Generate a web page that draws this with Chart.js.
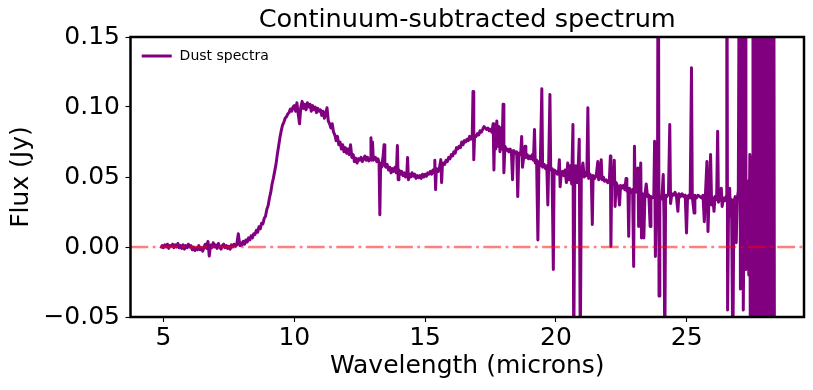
<!DOCTYPE html>
<html><head><meta charset="utf-8">
<script src="https://cdn.jsdelivr.net/npm/chart.js@4"></script>
<style>html,body{margin:0;padding:0;background:#fff;}canvas{display:block;}</style>
</head><body>
<canvas id="c" width="813" height="390"></canvas>
<script>
const chartTitle = "Continuum-subtracted spectrum";
const xAxisLabel = "Wavelength (microns)";
const yAxisLabel = "Flux (Jy)";
const seriesLabel = "Dust spectra";
const xTickValues = [5, 10, 15, 20, 25];
const xTickLabels = ["5", "10", "15", "20", "25"];
const yTickValues = [-0.05, 0.00, 0.05, 0.10, 0.15];
const yTickLabels = ["\u22120.05", "0.00", "0.05", "0.10", "0.15"];
const xLimits = [3.74, 29.48];
const yLimits = [-0.05, 0.15];
const zeroLevel = 0;

// [wavelength (microns), flux (Jy)]
const dustSeg1 = [[4.90,-0.001],[4.95,0.001],[5.00,-0.0005],[5.05,0.0015],[5.10,0.000],[5.15,0.002],[5.20,-0.001],[5.25,0.001],[5.30,0.0005],[5.35,0.002],[5.40,-0.0005],[5.45,0.0015],[5.50,0.000],[5.55,0.0025],[5.60,-0.0005],[5.65,0.001],[5.70,-0.001],[5.75,0.0015],[5.80,-0.0015],[5.85,0.001],[5.90,-0.0005],[5.95,0.002],[6.00,0.000],[6.05,0.001],[6.10,-0.002],[6.15,0.000],[6.20,-0.0025],[6.25,-0.0005],[6.30,-0.002],[6.35,0.001],[6.40,-0.002],[6.45,-0.0005],[6.50,-0.003],[6.55,0.000],[6.60,0.002],[6.65,-0.001],[6.70,0.004],[6.75,-0.0065],[6.80,0.0015],[6.85,-0.0005],[6.90,0.003],[6.95,0.000],[7.00,0.0015],[7.05,-0.001],[7.10,0.0025],[7.15,0.000],[7.20,-0.0015],[7.25,0.001],[7.30,0.002],[7.35,-0.0005],[7.40,0.001],[7.45,-0.001],[7.50,0.0005],[7.55,-0.0015],[7.60,0.0015],[7.65,0.000],[7.70,0.002],[7.75,0.0005],[7.80,0.0015],[7.86,0.0095],[7.92,0.001],[7.96,0.003],[8.00,0.0015],[8.05,0.004],[8.10,0.002],[8.15,0.005],[8.20,0.0035],[8.25,0.0065],[8.30,0.005],[8.35,0.008],[8.40,0.0065],[8.45,0.0095],[8.50,0.009],[8.55,0.012],[8.60,0.0105],[8.65,0.0145],[8.70,0.013],[8.75,0.017],[8.80,0.0165],[8.85,0.0205],[8.90,0.022],[8.95,0.027],[9.00,0.0295],[9.05,0.035],[9.10,0.039],[9.15,0.045],[9.20,0.049],[9.25,0.054],[9.30,0.059],[9.35,0.066],[9.40,0.072],[9.45,0.078],[9.50,0.083],[9.55,0.087],[9.60,0.089],[9.65,0.092],[9.70,0.093],[9.75,0.095],[9.80,0.096],[9.85,0.0985],[9.90,0.097],[9.95,0.100]];
const dustSeg2 = [[10.00,0.101],[10.05,0.097],[10.10,0.103],[10.15,0.095],[10.20,0.088],[10.25,0.100],[10.30,0.104],[10.35,0.099],[10.40,0.102],[10.45,0.098],[10.50,0.103],[10.55,0.100],[10.60,0.102],[10.65,0.097],[10.70,0.101],[10.75,0.098],[10.80,0.100],[10.85,0.096],[10.90,0.099],[10.95,0.097],[11.00,0.098],[11.05,0.094],[11.10,0.097],[11.15,0.092],[11.20,0.095],[11.25,0.0995],[11.30,0.090],[11.35,0.088],[11.40,0.085],[11.45,0.088],[11.50,0.082],[11.55,0.080],[11.60,0.076],[11.65,0.079],[11.70,0.073],[11.75,0.075],[11.80,0.070],[11.85,0.073],[11.90,0.068],[11.95,0.071],[12.00,0.067],[12.05,0.070],[12.10,0.066],[12.15,0.073],[12.20,0.064],[12.25,0.066],[12.30,0.061],[12.35,0.0635],[12.40,0.060],[12.45,0.063],[12.50,0.062],[12.55,0.064],[12.60,0.061],[12.65,0.063],[12.70,0.065],[12.75,0.062],[12.80,0.064],[12.85,0.0615],[12.90,0.063],[12.93,0.078],[12.96,0.062],[12.99,0.075],[13.02,0.062],[13.10,0.064],[13.15,0.061],[13.20,0.063],[13.24,0.060],[13.27,0.023],[13.30,0.059],[13.34,0.057],[13.40,0.066],[13.43,0.073],[13.46,0.058],[13.50,0.057],[13.55,0.059],[13.60,0.055],[13.65,0.057],[13.70,0.053],[13.75,0.056],[13.80,0.054],[13.85,0.057],[13.90,0.053],[13.94,0.0725],[13.97,0.048],[14.00,0.055],[14.05,0.052],[14.10,0.054],[14.15,0.051],[14.20,0.053],[14.25,0.050],[14.30,0.052],[14.33,0.064],[14.36,0.048],[14.40,0.052],[14.45,0.050],[14.50,0.053],[14.55,0.0505],[14.60,0.052],[14.65,0.049],[14.70,0.051],[14.75,0.0495],[14.80,0.051],[14.85,0.049],[14.90,0.052],[14.95,0.050]];
const dustSeg3 = [[15.00,0.052],[15.05,0.0505],[15.10,0.053],[15.15,0.052],[15.20,0.054],[15.25,0.052],[15.30,0.055],[15.34,0.053],[15.37,0.062],[15.40,0.041],[15.43,0.056],[15.50,0.054],[15.55,0.057],[15.60,0.0624],[15.63,0.046],[15.66,0.058],[15.70,0.060],[15.75,0.059],[15.80,0.062],[15.85,0.061],[15.90,0.064],[15.95,0.063],[16.00,0.066],[16.05,0.065],[16.10,0.068],[16.15,0.067],[16.20,0.071],[16.25,0.070],[16.30,0.072],[16.35,0.071],[16.40,0.075],[16.45,0.073],[16.50,0.076],[16.55,0.075],[16.60,0.077],[16.65,0.076],[16.70,0.079],[16.75,0.077],[16.80,0.078],[16.83,0.111],[16.86,0.0624],[16.89,0.080],[16.95,0.079],[17.00,0.081],[17.05,0.080],[17.10,0.083],[17.15,0.082],[17.20,0.084],[17.25,0.086],[17.30,0.085],[17.35,0.084],[17.40,0.085],[17.45,0.083],[17.50,0.084],[17.55,0.082],[17.60,0.088],[17.63,0.055],[17.66,0.087],[17.70,0.070],[17.74,0.090],[17.78,0.072],[17.82,0.086],[17.86,0.068],[17.90,0.085],[17.94,0.070],[17.98,0.102],[18.01,0.053],[18.05,0.072],[18.10,0.069],[18.15,0.070],[18.20,0.068],[18.25,0.070],[18.30,0.067],[18.34,0.048],[18.38,0.069],[18.45,0.067],[18.50,0.068],[18.54,0.036],[18.58,0.067],[18.65,0.066],[18.69,0.079],[18.72,0.057],[18.78,0.066],[18.82,0.072],[18.85,0.064],[18.90,0.066],[18.95,0.063],[19.00,0.065],[19.05,0.063],[19.10,0.066],[19.14,0.062],[19.18,0.084],[19.21,0.060],[19.26,0.062],[19.31,0.005],[19.35,0.061],[19.40,0.058],[19.46,0.113],[19.49,0.057],[19.55,0.059],[19.60,0.056],[19.65,0.058],[19.69,0.030],[19.72,0.057],[19.77,0.109],[19.80,0.055],[19.85,0.056],[19.90,-0.016],[19.93,0.055]];
const dustSeg4 = [[20.00,0.054],[20.05,0.052],[20.10,0.054],[20.13,0.0624],[20.16,0.043],[20.20,0.052],[20.25,0.054],[20.30,0.051],[20.35,0.055],[20.40,0.046],[20.45,0.060],[20.50,0.048],[20.55,0.058],[20.60,0.045],[20.65,0.0875],[20.68,-0.08],[20.72,0.050],[20.76,0.058],[20.80,0.046],[20.85,0.057],[20.89,0.077],[20.93,-0.08],[20.97,0.052],[21.03,0.060],[21.08,0.050],[21.13,0.053],[21.18,0.051],[21.22,0.0994],[21.25,0.049],[21.30,0.052],[21.35,0.050],[21.39,0.016],[21.42,0.051],[21.48,0.049],[21.54,0.051],[21.60,0.061],[21.63,0.048],[21.68,0.050],[21.73,0.0624],[21.76,0.048],[21.81,0.050],[21.86,0.047],[21.92,0.048],[21.98,0.046],[22.04,0.047],[22.08,0.065],[22.10,0.0004],[22.13,0.047],[22.18,0.045],[22.23,0.062],[22.26,0.029],[22.30,0.046],[22.37,0.043],[22.43,0.030],[22.47,0.044],[22.52,0.042],[22.58,0.044],[22.63,0.041],[22.68,0.049],[22.71,0.040],[22.75,0.042],[22.78,0.0076],[22.81,0.042],[22.87,0.039],[22.93,0.041],[22.97,-0.014],[23.00,0.072],[23.03,0.039],[23.08,0.040],[23.13,0.0565],[23.16,0.0147],[23.20,0.039],[23.24,0.060],[23.27,0.0064],[23.31,0.038],[23.36,0.0064],[23.40,0.037],[23.45,0.045],[23.50,0.036],[23.55,0.037],[23.60,0.0147],[23.63,0.036],[23.68,0.035],[23.74,0.036],[23.77,0.0755],[23.80,-0.0067],[23.84,0.036],[23.88,0.034],[23.91,0.30],[23.94,-0.035],[23.97,0.036],[24.01,0.034],[24.05,0.036],[24.10,0.0517],[24.13,0.020],[24.16,-0.08],[24.19,0.037],[24.24,0.036],[24.30,0.038],[24.35,0.0875],[24.38,0.031],[24.43,0.038],[24.49,0.037],[24.55,0.039],[24.60,0.037],[24.66,0.0255],[24.70,0.038],[24.76,0.036],[24.82,0.038],[24.88,0.036],[24.94,0.037],[24.99,0.010],[25.03,0.036],[25.08,0.037],[25.13,0.035],[25.18,0.128],[25.21,0.036],[25.28,0.0243],[25.31,0.037],[25.37,0.035],[25.43,0.037],[25.50,0.036],[25.56,0.035],[25.62,0.037],[25.67,0.018],[25.71,0.036],[25.77,0.061],[25.81,0.011],[25.85,0.035],[25.91,0.066],[25.95,0.030],[26.00,0.035],[26.04,0.0255],[26.08,0.036],[26.14,0.034],[26.18,0.0827],[26.21,0.032],[26.27,0.035],[26.32,0.042],[26.35,0.029],[26.40,0.035],[26.45,0.033],[26.50,0.036],[26.53,0.30],[26.56,-0.045],[26.60,0.034],[26.64,0.042],[26.67,0.022],[26.71,0.034],[26.76,-0.08],[26.80,0.032],[26.85,0.036],[26.89,0.003],[26.93,0.035],[26.97,0.040],[27.02,0.30],[27.05,-0.030],[27.09,0.034],[27.13,0.30],[27.16,-0.045],[27.19,0.033],[27.23,0.30],[27.26,-0.016],[27.30,0.036],[27.34,0.047],[27.37,-0.02],[27.41,0.066],[27.43,-0.08],[27.45,0.060],[27.47,-0.08],[27.49,0.064],[27.51,-0.06],[27.53,0.30],[27.55,-0.08],[27.57,0.066],[27.60,0.30],[27.63,-0.08],[27.66,0.30],[27.69,-0.08],[27.72,0.30],[27.75,-0.08],[27.78,0.30],[27.81,-0.08],[27.84,0.30],[27.87,-0.08],[27.90,0.30],[27.93,-0.08],[27.96,0.30],[27.99,-0.08],[28.02,0.30],[28.05,-0.08],[28.08,0.30],[28.11,-0.08],[28.14,0.30],[28.17,-0.08],[28.20,0.30],[28.23,-0.08],[28.26,0.30],[28.29,-0.08],[28.32,0.30],[28.35,-0.08]];

const FONT = "'DejaVu Sans', sans-serif";
Chart.defaults.font.family = FONT;
Chart.defaults.color = '#000';

const spectrum = [].concat(dustSeg1, dustSeg2, dustSeg3, dustSeg4).map(p => ({x: p[0], y: p[1]}));
const zeroLine = xLimits.map(x => ({x: x, y: zeroLevel}));

const framePlugin = {
  id: 'frame',
  afterDatasetsDraw(chart) {
    const a = chart.chartArea, c = chart.ctx;
    c.save();
    c.strokeStyle = '#000';
    c.lineWidth = 2.5;
    c.strokeRect(a.left, a.top, a.right - a.left, a.bottom - a.top);
    c.restore();
  }
};
const titlePlugin = {
  id: 'axesTitle',
  afterDraw(chart) {
    const a = chart.chartArea, c = chart.ctx;
    c.save();
    c.fillStyle = '#000';
    c.font = "25.6px " + FONT;
    c.textAlign = 'center';
    c.textBaseline = 'middle';
    c.fillText(chartTitle, (a.left + a.right) / 2, 20.6);
    c.restore();
  }
};
const legendPlugin = {
  id: 'inlineLegend',
  afterDraw(chart) {
    const ds = chart.data.datasets[1];
    const a = chart.chartArea, c = chart.ctx;
    const cy = a.top + 19;
    c.save();
    c.strokeStyle = ds.borderColor;
    c.lineWidth = 3;
    c.beginPath();
    c.moveTo(a.left + 11.2, cy);
    c.lineTo(a.left + 41.2, cy);
    c.stroke();
    c.fillStyle = '#000';
    c.font = "14px " + FONT;
    c.textBaseline = 'middle';
    c.textAlign = 'left';
    c.fillText(ds.label, a.left + 49.1, cy);
    c.restore();
  }
};

const tickGrid = {display: true, drawOnChartArea: false, drawTicks: true, tickLength: 5, tickWidth: 1.1, tickColor: '#000'};

new Chart(document.getElementById('c'), {
  type: 'line',
  data: {
    datasets: [
      {label: 'zero', data: zeroLine, borderColor: 'rgba(255,0,0,0.5)', borderWidth: 2.7, borderDash: [17.8, 4.4, 2.8, 4.4], pointRadius: 0, clip: 0, order: 0},
      {label: seriesLabel, data: spectrum, borderColor: '#800080', borderWidth: 3, pointRadius: 0, borderJoinStyle: 'round', tension: 0, clip: 0, order: 1}
    ]
  },
  options: {
    responsive: false,
    animation: false,
    devicePixelRatio: 1,
    events: [],
    layout: {padding: {left: 0, right: 9, top: 37, bottom: 0}},
    plugins: {
      legend: {display: false},
      tooltip: {enabled: false},
      title: {display: false}
    },
    scales: {
      x: {
        type: 'linear', min: xLimits[0], max: xLimits[1],
        afterBuildTicks: s => { s.ticks = xTickValues.map(v => ({value: v})); },
        afterFit: s => { s.height = 73; },
        ticks: {callback: v => xTickLabels[xTickValues.indexOf(v)], font: {family: FONT, size: 25}, color: '#000', padding: 1.4, maxRotation: 0, autoSkip: false},
        grid: tickGrid,
        border: {display: false},
        title: {display: true, text: xAxisLabel, color: '#000', font: {family: FONT, size: 25}, padding: {top: 0, bottom: 8.7}}
      },
      y: {
        type: 'linear', min: yLimits[0], max: yLimits[1],
        afterBuildTicks: s => { s.ticks = yTickValues.map(v => ({value: v})); },
        afterFit: s => { s.width = 130.5; },
        ticks: {callback: (v, i) => yTickLabels[i], font: {family: FONT, size: 25}, color: '#000', padding: 5.5, autoSkip: false},
        grid: tickGrid,
        border: {display: false},
        title: {display: true, text: yAxisLabel, color: '#000', font: {family: FONT, size: 25}, padding: {top: 6.5, bottom: 0}}
      }
    }
  },
  plugins: [framePlugin, titlePlugin, legendPlugin]
});
</script>
</body></html>
